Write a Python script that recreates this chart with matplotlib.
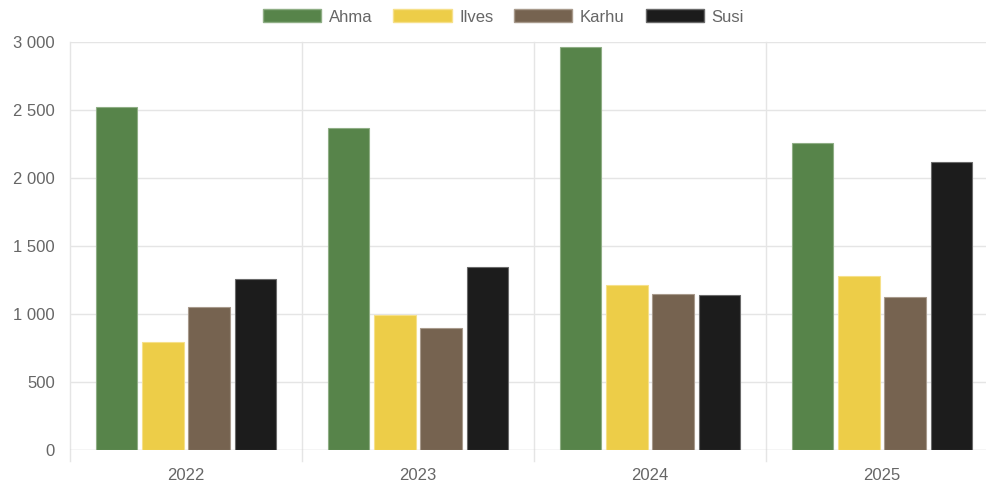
import numpy as np
import matplotlib.pyplot as plt
from matplotlib.patches import Patch

# datos
anios = ["2022", "2023", "2024", "2025"]
ahma = [2520, 2370, 2960, 2255]
ilves = [795, 995, 1215, 1278]
karhu = [1052, 897, 1148, 1125]
susi = [1257, 1347, 1140, 2120]

series = ["Ahma", "Ilves", "Karhu", "Susi"]
valores = [ahma, ilves, karhu, susi]
colores = ["#57844a", "#edcd48", "#766350", "#1c1c1c"]
bordes = ["#8fae85", "#f6e08a", "#a89a8c", "#6a6a6a"]

plt.rcParams['font.family'] = ['Liberation Sans', 'DejaVu Sans']

fig = plt.figure(figsize=(9.87, 4.87), dpi=100)
# el area llega un poco mas alla del borde derecho, como en el original
ax = fig.add_axes([70 / 987, 37 / 487, 928 / 987, 408 / 487])

n = len(anios)
x = np.arange(n)
ancho_cat = 0.8
ancho_slot = ancho_cat / len(series)
ancho_barra = ancho_slot * 0.9

for i, (nombre, vals) in enumerate(zip(series, valores)):
    pos = x - ancho_cat / 2 + ancho_slot * (i + 0.5)
    ax.bar(pos, vals, width=ancho_barra, color=colores[i], edgecolor=bordes[i],
           linewidth=0.8, zorder=3)

ax.set_xlim(-0.5, n - 0.5)
ax.set_ylim(0, 3000)
ax.set_yticks(np.arange(0, 3001, 500))
ax.set_yticklabels([f"{v:,}".replace(",", " ") for v in range(0, 3001, 500)])
ax.set_xticks(x)
ax.set_xticklabels(anios)

# rejilla
for v in range(500, 3001, 500):
    ax.axhline(v, color="#e5e5e5", linewidth=1, zorder=0)
for b in np.arange(-0.5, n, 1.0):
    ax.plot([b, b], [-80, 3000], color="#e5e5e5", linewidth=1, zorder=0, clip_on=False)
ax.axhline(0, color="#d0d0d0", linewidth=1, zorder=1)

for s in ax.spines.values():
    s.set_visible(False)
ax.tick_params(axis="both", length=0, colors="#666666", labelsize=12)
ax.tick_params(axis="y", pad=11)
ax.tick_params(axis="x", pad=13)

handles = [Patch(facecolor=colores[i], edgecolor=bordes[i], label=series[i]) for i in range(len(series))]
leg = fig.legend(handles=handles, loc="upper center", bbox_to_anchor=(0.51, 1.012), ncol=4,
                 frameon=False, fontsize=12, handlelength=3.5, handleheight=0.85,
                 handletextpad=0.45, columnspacing=1.25, labelcolor="#666666")

fig.savefig("out.png", dpi=100)
